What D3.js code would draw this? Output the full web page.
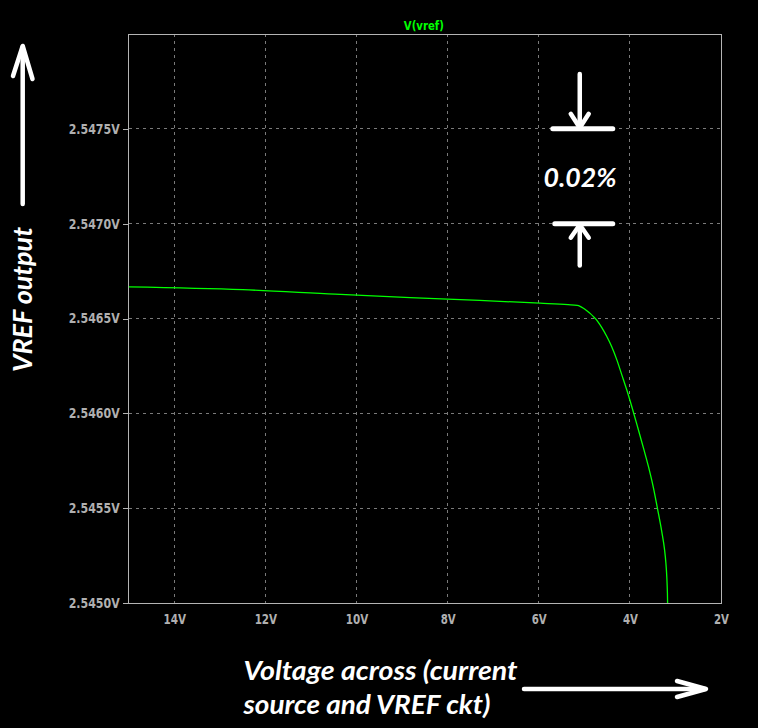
<!DOCTYPE html>
<html>
<head>
<meta charset="utf-8">
<script src="https://cdn.jsdelivr.net/npm/d3@7"></script>
<style>
  html, body { margin: 0; padding: 0; background: #000; }
  svg { display: block; }
</style>
</head>
<body>
<div id="chart"></div>
<script>
// ---- data ----
const voltage = [15, 12.5, 10.47, 8, 5.97, 5.356, 5.158, 5.092, 5.020, 4.945, 4.873, 4.800, 4.741, 4.700, 4.616, 4.506, 4.396, 4.286, 4.177, 4.067, 3.957, 3.812, 3.703, 3.593, 3.483, 3.395, 3.299, 3.241, 3.211, 3.189, 3.176, 3.168];
const vref    = [2.546667, 2.546652, 2.546628, 2.546602, 2.546581, 2.546573, 2.546569, 2.546564, 2.546554, 2.546541, 2.546527, 2.546510, 2.546495, 2.546482, 2.546452, 2.546405, 2.546350, 2.546282, 2.546203, 2.546123, 2.546035, 2.545912, 2.545818, 2.545720, 2.545607, 2.545499, 2.545375, 2.545285, 2.545215, 2.545135, 2.545050, 2.544950];
const xTicks = [14, 12, 10, 8, 6, 4, 2];
const yTicks = [2.5450, 2.5455, 2.5460, 2.5465, 2.5470, 2.5475];
const seriesName = "V(vref)";
const yTitle = "VREF output";
const xTitleLines = ["Voltage across (current", "source and VREF ckt)"];
const spanLabel = "0.02%";

const W = 758, H = 728;
const m = { left: 128.7, right: 721, top: 34, bottom: 603 };

const svg = d3.select("#chart").append("svg").attr("width", W).attr("height", H)
  .style("background", "#000");

const x = d3.scaleLinear().domain([15, 2]).range([m.left, m.right]);
const y = d3.scaleLinear().domain([2.545, 2.548]).range([m.bottom, m.top]);

const gridColor = "#7a7a7a";
const axisColor = "#b4b4b4";
const tickTextColor = "#b0b0b0";
const tickFont = "'DejaVu Sans Condensed', 'DejaVu Sans', sans-serif";

// grid
svg.append("g").selectAll("line").data(xTicks.filter(t => t !== 2)).join("line")
  .attr("x1", d => x(d)).attr("x2", d => x(d))
  .attr("y1", m.top).attr("y2", m.bottom)
  .attr("stroke", gridColor).attr("stroke-dasharray", "3,4").attr("shape-rendering", "crispEdges");
svg.append("g").selectAll("line").data(yTicks.filter(t => t !== 2.545)).join("line")
  .attr("x1", m.left).attr("x2", m.right)
  .attr("y1", d => y(d)).attr("y2", d => y(d))
  .attr("stroke", gridColor).attr("stroke-dasharray", "3,4").attr("shape-rendering", "crispEdges");

// axes
const yAxis = d3.axisLeft(y).tickValues(yTicks).tickFormat(d => d3.format(".4f")(d) + "V")
  .tickSize(6).tickPadding(3);
const gy = svg.append("g").attr("transform", `translate(${m.left},0)`).call(yAxis);
gy.select(".domain").remove();
gy.selectAll(".tick line").attr("stroke", axisColor).attr("shape-rendering", "crispEdges");
gy.selectAll(".tick text").attr("fill", tickTextColor)
  .style("font-family", tickFont).style("font-size", "14px").style("font-weight", "bold")
  .attr("textLength", 51).attr("lengthAdjust", "spacingAndGlyphs");

const xAxis = d3.axisBottom(x).tickValues(xTicks).tickFormat(d => d + "V").tickSize(0).tickPadding(11);
const gx = svg.append("g").attr("transform", `translate(0,${m.bottom})`).call(xAxis);
gx.select(".domain").remove();
gx.selectAll(".tick text").attr("fill", tickTextColor)
  .style("font-family", tickFont).style("font-size", "14px").style("font-weight", "bold")
  .attr("textLength", d => (String(d).length + 1) * 7.5).attr("lengthAdjust", "spacingAndGlyphs");

// plot border
svg.append("rect").attr("x", m.left).attr("y", m.top)
  .attr("width", m.right - m.left).attr("height", m.bottom - m.top)
  .attr("fill", "none").attr("stroke", axisColor).attr("shape-rendering", "crispEdges");

// curve
svg.append("clipPath").attr("id", "clip").append("rect")
  .attr("x", m.left).attr("y", m.top).attr("width", m.right - m.left).attr("height", m.bottom - m.top);
const pts = voltage.map((v, i) => [v, vref[i]]);
svg.append("path").datum(pts)
  .attr("clip-path", "url(#clip)")
  .attr("fill", "none").attr("stroke", "#00ff00").attr("stroke-width", 1.3)
  .attr("d", d3.line().x(d => x(d[0])).y(d => y(d[1])).curve(d3.curveMonotoneX));

// series title
svg.append("text").attr("x", (m.left + m.right) / 2 - 1).attr("y", 30)
  .attr("text-anchor", "middle").attr("fill", "#00ff00")
  .style("font-family", tickFont)
  .style("font-size", "13px").style("font-weight", "bold")
  .attr("textLength", 40).attr("lengthAdjust", "spacingAndGlyphs")
  .text(seriesName);

// ---- annotations ----
const ann = svg.append("g").attr("stroke", "#fff").attr("fill", "none")
  .attr("stroke-width", 4.5).attr("stroke-linecap", "round").attr("stroke-linejoin", "round");
const annFont = "Lato, 'Open Sans', sans-serif";

// left vertical arrow
ann.append("line").attr("x1", 22.7).attr("x2", 22.7).attr("y1", 47).attr("y2", 204);
ann.append("polyline").attr("points", "13,76 22.7,46 32.5,79");

// y title
svg.append("text").attr("transform", "translate(31.5,299.5) rotate(-90)")
  .attr("text-anchor", "middle").attr("fill", "#fff")
  .style("font-family", annFont).style("font-size", "26px")
  .style("font-weight", "bold").style("font-style", "italic")
  .attr("textLength", 145).attr("lengthAdjust", "spacingAndGlyphs")
  .text(yTitle);

// x title
xTitleLines.forEach((t, i) => {
  svg.append("text").attr("x", 243.5).attr("y", i === 0 ? 679.5 : 713.5)
    .attr("fill", "#fff")
    .style("font-family", annFont).style("font-size", "26px")
    .style("font-weight", "bold").style("font-style", "italic")
    .attr("textLength", i === 0 ? 274 : 247).attr("lengthAdjust", "spacingAndGlyphs")
    .text(t);
});

// right arrow
ann.append("line").attr("x1", 524).attr("x2", 705).attr("y1", 689).attr("y2", 689);
ann.append("polyline").attr("points", "677,681 706,689 677,697");

// 0.02% span marker (between 2.5475 and 2.5470 grid lines)
const cx = x(5.1);
const yTop = y(2.5475), yBot = y(2.5470);
ann.append("line").attr("x1", cx - 27).attr("x2", cx + 33).attr("y1", yTop).attr("y2", yTop).attr("stroke-width", 5);
ann.append("line").attr("x1", cx).attr("x2", cx).attr("y1", 74).attr("y2", yTop - 1);
ann.append("polyline").attr("points", `${cx - 9},${yTop - 15} ${cx},${yTop - 1} ${cx + 9},${yTop - 15}`);
ann.append("line").attr("x1", cx - 25).attr("x2", cx + 33).attr("y1", yBot).attr("y2", yBot).attr("stroke-width", 5);
ann.append("line").attr("x1", cx).attr("x2", cx).attr("y1", yBot + 1).attr("y2", 265.5);
ann.append("polyline").attr("points", `${cx - 9},${yBot + 14} ${cx},${yBot + 1} ${cx + 9},${yBot + 14}`);

svg.append("text").attr("x", 543.5).attr("y", 187.3)
  .attr("fill", "#fff")
  .style("font-family", annFont).style("font-size", "26px")
  .style("font-weight", "bold").style("font-style", "italic")
  .attr("textLength", 73).attr("lengthAdjust", "spacingAndGlyphs")
  .text(spanLabel);
</script>
</body>
</html>
